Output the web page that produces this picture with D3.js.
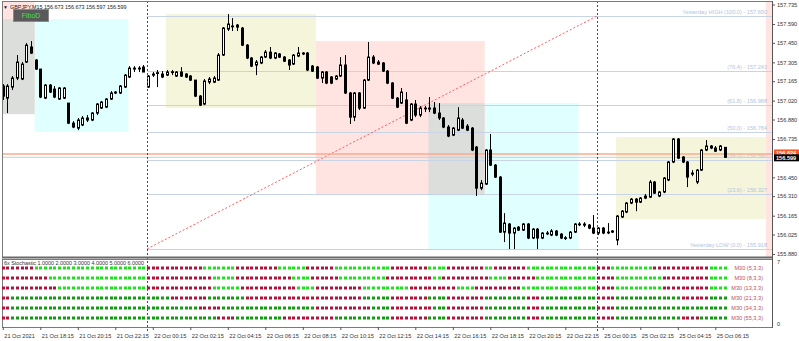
<!DOCTYPE html>
<html>
<head>
<meta charset="utf-8">
<script src="https://cdn.jsdelivr.net/npm/d3@7"></script>
<style>
  body { margin: 0; background: #fff; }
  svg { display: block; font-family: 'Liberation Sans', Arial, sans-serif; }
</style>
</head>
<body>
<div id="container"></div>
<script>
// GBPJPY M15 bars, [open, high, low, close]; first bar 21 Oct 16:15
const candles = [
  [157.129,157.143,157.025,157.054],[157.039,157.143,156.928,157.129],[157.121,157.203,157.099,157.188],
  [157.188,157.359,157.173,157.307],[157.181,157.307,157.173,157.292],[157.307,157.448,157.300,157.433],
  [157.419,157.463,157.367,157.374],[157.322,157.329,157.248,157.255],[157.255,157.255,157.039,157.047],
  [157.039,157.143,157.032,157.136],[157.136,157.143,157.077,157.084],[157.106,157.129,157.039,157.047],
  [157.032,157.121,157.025,157.114],[157.039,157.121,157.032,157.114],[157.002,157.002,156.846,156.853],
  [156.853,156.868,156.816,156.824],[156.816,156.891,156.801,156.876],[156.839,156.906,156.831,156.891],
  [156.876,156.913,156.861,156.891],[156.876,156.935,156.868,156.928],[156.928,157.002,156.913,156.995],
  [156.965,157.017,156.958,157.010],[156.972,157.039,156.965,157.032],[157.032,157.091,157.025,157.077],
  [157.077,157.091,157.069,157.084],[157.077,157.136,157.069,157.129],[157.121,157.218,157.114,157.210],
  [157.196,157.277,157.188,157.262],[157.255,157.277,157.233,157.262],[157.262,157.277,157.233,157.260],
  [157.270,157.285,157.233,157.233],[157.121,157.210,157.114,157.203],[157.210,157.233,157.196,157.218],
  [157.225,157.248,157.121,157.228],[157.218,157.240,157.188,157.196],[157.210,157.248,157.203,157.233],
  [157.233,157.248,157.210,157.235],[157.203,157.240,157.196,157.233],[157.233,157.270,157.196,157.203],
  [157.218,157.225,157.188,157.196],[157.203,157.210,157.166,157.173],[157.173,157.173,157.047,157.054],
  [157.054,157.062,156.980,156.987],[156.995,157.181,156.987,157.166],[157.158,157.196,157.143,157.181],
  [157.158,157.203,157.151,157.188],[157.173,157.374,157.166,157.359],[157.359,157.567,157.352,157.560],
  [157.552,157.664,157.538,157.590],[157.575,157.634,157.538,157.572],[157.582,157.590,157.538,157.567],
  [157.560,157.567,157.426,157.433],[157.433,157.441,157.329,157.337],[157.337,157.344,157.270,157.277],
  [157.285,157.322,157.210,157.307],[157.300,157.352,157.292,157.344],[157.344,157.396,157.337,157.381],
  [157.381,157.419,157.329,157.337],[157.337,157.381,157.329,157.374],[157.367,157.374,157.337,157.344],
  [157.344,157.352,157.307,157.314],[157.322,157.329,157.248,157.285],[157.292,157.367,157.285,157.359],
  [157.352,157.419,157.344,157.374],[157.374,157.381,157.359,157.367],[157.374,157.381,157.240,157.248],
  [157.277,157.285,157.233,157.240],[157.270,157.277,157.181,157.188],[157.188,157.240,157.151,157.233],
  [157.233,157.240,157.143,157.151],[157.196,157.203,157.143,157.151],[157.181,157.210,157.173,157.203],
  [157.203,157.344,157.196,157.285],[157.285,157.359,157.069,157.077],[157.077,157.084,156.846,156.898],
  [156.898,157.084,156.868,157.077],[157.077,157.084,156.950,156.965],[156.965,157.181,156.958,157.173],
  [157.173,157.456,157.166,157.344],[157.344,157.359,157.292,157.300],[157.307,157.322,157.285,157.292],
  [157.300,157.307,157.233,157.240],[157.240,157.248,157.143,157.151],[157.151,157.158,157.032,157.039],
  [157.039,157.047,156.965,156.972],[157.002,157.114,156.995,157.084],[157.025,157.084,156.846,156.853],
  [156.876,157.002,156.868,156.995],[156.995,157.025,156.898,156.913],[156.913,156.980,156.898,156.965],
  [156.965,156.980,156.935,156.963],[156.958,157.047,156.935,156.965],[156.965,157.010,156.920,156.928],
  [156.928,157.002,156.876,156.891],[156.891,156.898,156.816,156.824],[156.824,156.839,156.749,156.757],
  [156.764,156.824,156.757,156.816],[156.801,156.972,156.794,156.891],[156.876,156.891,156.809,156.816],
  [156.831,156.846,156.794,156.801],[156.816,156.824,156.645,156.653],[156.675,156.683,156.311,156.370],
  [156.370,156.430,156.355,156.407],[156.400,156.660,156.393,156.653],[156.653,156.772,156.534,156.541],
  [156.541,156.549,156.445,156.452],[156.452,156.459,156.036,156.043],[156.043,156.184,155.969,156.110],
  [156.103,156.110,155.917,156.036],[156.036,156.080,155.917,156.073],[156.080,156.088,156.051,156.058],
  [156.058,156.110,156.051,156.103],[156.103,156.110,155.991,155.999],[155.999,156.073,155.991,156.065],
  [156.065,156.073,155.917,155.999],[155.999,156.043,155.991,156.036],[156.036,156.051,156.021,156.034],
  [156.021,156.065,156.013,156.051],[156.051,156.058,156.013,156.021],[156.028,156.036,155.991,155.999],
  [155.999,156.013,155.984,156.001],[155.999,156.051,155.991,156.043],[156.043,156.110,156.036,156.103],
  [156.103,156.117,156.088,156.101],[156.103,156.117,156.080,156.095],[156.095,156.103,156.065,156.073],
  [156.073,156.170,156.028,156.036],[156.036,156.080,156.021,156.073],[156.073,156.080,156.028,156.036],
  [156.043,156.110,156.028,156.041],[156.043,156.058,156.036,156.051],[155.984,156.170,155.946,156.162],
  [156.155,156.207,156.147,156.199],[156.192,156.266,156.184,156.259],[156.259,156.296,156.251,156.288],
  [156.288,156.296,156.199,156.266],[156.266,156.303,156.259,156.296],[156.296,156.326,156.288,156.311],
  [156.303,156.430,156.296,156.415],[156.415,156.422,156.326,156.333],[156.311,156.348,156.303,156.341],
  [156.341,156.452,156.333,156.445],[156.430,156.571,156.422,156.564],[156.564,156.742,156.556,156.735],
  [156.735,156.742,156.586,156.593],[156.601,156.608,156.556,156.564],[156.564,156.571,156.378,156.452],
  [156.474,156.504,156.459,156.482],[156.415,156.512,156.400,156.504],[156.504,156.660,156.497,156.653],
  [156.653,156.727,156.645,156.683],[156.668,156.690,156.660,156.683],[156.668,156.683,156.638,156.645],
  [156.653,156.690,156.645,156.683],[156.673,156.673,156.597,156.599]
];

const timeTickBars = [0,8,16,24,32,40,48,56,64,72,80,88,96,104,112,120,128,136,144,152];
const timeLabels = ['21 Oct 2021','21 Oct 18:15','21 Oct 20:15','21 Oct 22:15','22 Oct 00:15',
  '22 Oct 02:15','22 Oct 04:15','22 Oct 06:15','22 Oct 08:15','22 Oct 10:15','22 Oct 12:15',
  '22 Oct 14:15','22 Oct 16:15','22 Oct 18:15','22 Oct 20:15','22 Oct 22:15','25 Oct 00:15',
  '25 Oct 02:15','25 Oct 04:15','25 Oct 06:15'];
const dayStartBars = [31, 127];

const priceTicks = [157.735,157.590,157.450,157.305,157.165,157.020,156.880,156.735,
  156.450,156.310,156.165,156.025,155.880];
const bid = 156.599, ask = 156.624;

const fiboValues = [157.650,157.243,156.988,156.784,156.580,156.327,155.918];
const fiboNames = ['Yesterday HIGH (100.0)','(76.4)','(61.8)','(50.0)','(38.2)','(23.6)','Yesterday LOW (0.0)'];

// session boxes: kind, first bar, end bar, high, low
const sessions = [
  ['tokyo', 35, 67, 157.664, 156.965],
  ['tokyo', 131, 163, 156.749, 156.140],
  ['ny', 7, 27, 157.627, 156.787],
  ['ny', 91, 123, 157.002, 155.917],
  ['london', -9, 7, 157.900, 156.950],
  ['london', 67, 103, 157.463, 156.318],
  ['london', 163, 199, 157.900, 155.700],
  ['overlap', -9, 7, 157.627, 156.920],
  ['overlap', 91, 103, 157.002, 156.318]
];

const stochNames = ['M30 (5,3,3)','M30 (8,3,3)','M30 (13,3,3)','M30 (21,3,3)','M30 (34,3,3)','M30 (55,3,3)'];
// runs of red (r) / green (g) bars per line, left to right
const stochRuns = [
  'r7 g24 r12 g7 r9 g6 r6 g12 r8 g4 r8 g2 r7 g15 r3 g9 r12 g4',
  'r10 g21 r14 g5 r12 g4 r6 g10 r10 g2 r10 g4 r6 g13 r4 g10 r10 g4',
  'r12 g19 r14 g6 r12 g4 r10 g10 r10 g4 r10 g16 r4 g10 r10 g4',
  'r2 g34 r8 g8 r25 g6 r8 g4 r8 g9 r3 g12 r4 g14 r6 g4',
  'r2 g40 r5 g20 r12 g4 r9 g3 r8 g9 r3 g12 r4 g24',
  'r2 g44 r4 g10 r11 g12 r8 g4 r8 g9 r3 g12 r4 g14 r4 g6'
];

const W = 799, H = 341;
const main = {l: 2, r: 772, t: 1, b: 257};
const sub = {t: 259, b: 327};

let svg = d3.select('#container').append('svg')
    .attr('width', W).attr('height', H)
    .style('background', 'white');

let x = d3.scaleLinear().domain([0, candles.length - 1]).range([2.8, 724.7]);
let y = d3.scaleLinear().domain([155.858, 157.761]).range([main.b, main.t]);
let ys = d3.scaleLinear().domain([0, 7]).range([327.6, 258.4]);

svg.append('clipPath').attr('id', 'mainclip')
  .append('rect').attr('x', main.l).attr('y', main.t)
  .attr('width', main.r - main.l).attr('height', main.b - main.t);

let plot = svg.append('g').attr('clip-path', 'url(#mainclip)');

// session boxes
let sessionColor = {tokyo: '#f5f5dc', ny: '#e0ffff', london: '#ffe4e1', overlap: '#dcdedc'};
plot.selectAll('rect.session').data(sessions).join('rect')
    .attr('class', 'session')
    .attr('x', d => x(d[1]) - 1)
    .attr('width', d => x(d[2]) - x(d[1]))
    .attr('y', d => y(d[3]))
    .attr('height', d => y(d[4]) - y(d[3]))
    .attr('fill', d => sessionColor[d[0]]);

// fibo levels
let fx0 = x(dayStartBars[0]) - 1;
plot.selectAll('line.fibo').data(fiboValues).join('line')
    .attr('x1', fx0).attr('x2', main.r)
    .attr('y1', d => Math.round(y(d)) + 0.5).attr('y2', d => Math.round(y(d)) + 0.5)
    .attr('stroke', '#c8d4e6').attr('stroke-width', 1);
plot.selectAll('text.fibo').data(fiboValues).join('text')
    .attr('x', 767).attr('y', d => y(d) - 2)
    .attr('text-anchor', 'end')
    .attr('font-size', 5.6).attr('fill', '#b4c4dc')
    .text((d, i) => fiboNames[i] + ' -  ' + d.toFixed(3));

// fibo trendline from yesterday low to high
plot.append('line')
    .attr('x1', fx0).attr('y1', y(fiboValues[6]))
    .attr('x2', x(dayStartBars[1]) - 1).attr('y2', y(fiboValues[0]))
    .attr('stroke', '#ff5a5a').attr('stroke-width', 1)
    .attr('stroke-dasharray', '2,2');

// bid & ask lines
plot.append('line')
    .attr('x1', main.l).attr('x2', main.r)
    .attr('y1', y(bid)).attr('y2', y(bid))
    .attr('stroke', '#c9ced8').attr('stroke-width', 1);
plot.append('line')
    .attr('x1', main.l).attr('x2', main.r)
    .attr('y1', y(ask)).attr('y2', y(ask))
    .attr('stroke', '#ffa98a').attr('stroke-width', 1.6);

// candles
let cg = plot.append('g');
let cx = i => Math.round(x(i));
cg.selectAll('line.wick').data(candles).join('line')
    .attr('x1', (d, i) => cx(i) + 0.5).attr('x2', (d, i) => cx(i) + 0.5)
    .attr('y1', d => y(d[1])).attr('y2', d => y(d[2]))
    .attr('stroke', 'black').attr('stroke-width', 1);
cg.selectAll('rect.body').data(candles).join('rect')
    .attr('x', (d, i) => cx(i) - 0.5)
    .attr('width', 2)
    .attr('y', d => y(Math.max(d[0], d[3])))
    .attr('height', d => Math.max(0.8, Math.abs(y(d[0]) - y(d[3]))))
    .attr('fill', d => d[3] >= d[0] ? 'white' : 'black')
    .attr('stroke', 'black').attr('stroke-width', 1);

// day separators
svg.selectAll('line.sep').data(dayStartBars).join('line')
    .attr('x1', d => Math.round(x(d) - 1) + 0.5).attr('x2', d => Math.round(x(d) - 1) + 0.5)
    .attr('y1', main.t).attr('y2', 333)
    .attr('stroke', '#4a4a4a').attr('stroke-width', 1)
    .attr('stroke-dasharray', '2,2');

// panel borders
svg.append('rect').attr('x', main.l + 0.5).attr('y', main.t + 0.5)
    .attr('width', main.r - main.l).attr('height', main.b - main.t)
    .attr('fill', 'none').attr('stroke', '#7a7a7a');
svg.append('line').attr('x1', main.l).attr('x2', main.r).attr('y1', main.b + 0.5).attr('y2', main.b + 0.5)
    .attr('stroke', '#6a6a6a').attr('stroke-width', 2);
svg.append('rect').attr('x', main.l + 0.5).attr('y', sub.t + 0.5)
    .attr('width', main.r - main.l).attr('height', sub.b - sub.t)
    .attr('fill', 'none').attr('stroke', '#7a7a7a');

// title and button
svg.append('text').attr('x', 3).attr('y', 8.5).attr('font-size', 5).attr('fill', '#222').text('\u25BC');
svg.append('text').attr('x', 10).attr('y', 8.5).attr('font-size', 5.4).attr('fill', '#222')
    .text('GBPJPY,M15  156.673 156.673 156.597 156.599');
svg.append('rect').attr('x', 13.5).attr('y', 9.5).attr('width', 35).attr('height', 12)
    .attr('fill', '#5a5a5a').attr('stroke', '#8a8a8a');
svg.append('text').attr('x', 31).attr('y', 18.3).attr('text-anchor', 'middle')
    .attr('font-size', 7).attr('fill', '#3ee03e').text('FiboD');

// price axis
let pAxis = svg.append('g').attr('transform', 'translate(' + main.r + ',0)')
    .call(d3.axisRight(y).tickValues(priceTicks).tickFormat(d3.format('.3f')).tickSize(3).tickPadding(2));
pAxis.select('.domain').remove();
pAxis.selectAll('line').attr('stroke', '#555');
pAxis.selectAll('text').attr('font-size', 5.6).attr('fill', '#333')
    .attr('font-family', "'Liberation Sans', Arial, sans-serif");

svg.append('line').attr('x1', main.r + 0.5).attr('x2', main.r + 0.5).attr('y1', main.t).attr('y2', sub.b + 1)
    .attr('stroke', '#555');

let priceBox = (p, fill, dy) => {
  svg.append('rect').attr('x', main.r + 2).attr('y', y(p) - 3.5 + dy).attr('width', 25).attr('height', 7)
    .attr('fill', fill);
  svg.append('text').attr('x', main.r + 4).attr('y', y(p) + 2 + dy).attr('font-size', 5.6)
    .attr('fill', 'white').attr('font-weight', 'bold').text(p.toFixed(3));
};
priceBox(ask, '#ff5522', -1);
priceBox(bid, '#000000', 0.5);

// stochastic subwindow
svg.append('text').attr('x', 4).attr('y', 265).attr('font-size', 5.4).attr('fill', '#333')
    .text('6x Stochastic 1.0000 2.0000 3.0000 4.0000 5.0000 6.0000');

let parseRuns = s => {
  let out = [];
  s.split(' ').forEach(t => { for (let k = 0; k < +t.slice(1); k++) out.push(t[0]); });
  return out.slice(0, candles.length);
};
let dotColor = (c, row) => c === 'r' ? '#b0123c' : (row < 3 ? '#1ee01e' : '#129a12');

stochRuns.forEach((s, row) => {
  let level = 6 - row;
  svg.append('g').selectAll('rect').data(parseRuns(s)).join('rect')
    .attr('x', (d, i) => cx(i) - 1)
    .attr('y', Math.round(ys(level)) - 1.5)
    .attr('width', 3).attr('height', 3)
    .attr('fill', d => dotColor(d, row));
});
svg.selectAll('text.sname').data(stochNames).join('text')
    .attr('x', 763).attr('y', (d, i) => ys(6 - i) + 2)
    .attr('text-anchor', 'end').attr('font-size', 5.6).attr('fill', '#c0505f')
    .text(d => d);
svg.append('text').attr('x', 777).attr('y', 264).attr('font-size', 5.6).attr('fill', '#333').text('7');
svg.append('text').attr('x', 777).attr('y', 326).attr('font-size', 5.6).attr('fill', '#333').text('0');

// time axis
let tAxis = svg.append('g').attr('transform', 'translate(0,' + sub.b + ')')
    .call(d3.axisBottom(x).tickValues(timeTickBars)
      .tickFormat((d, i) => timeLabels[i]).tickSize(3).tickPadding(4));
tAxis.select('.domain').remove();
tAxis.selectAll('line').attr('stroke', '#555');
tAxis.selectAll('text').attr('font-size', 5.6).attr('fill', '#333')
    .attr('text-anchor', 'start').attr('dx', 1)
    .attr('font-family', "'Liberation Sans', Arial, sans-serif");
</script>
</body>
</html>
